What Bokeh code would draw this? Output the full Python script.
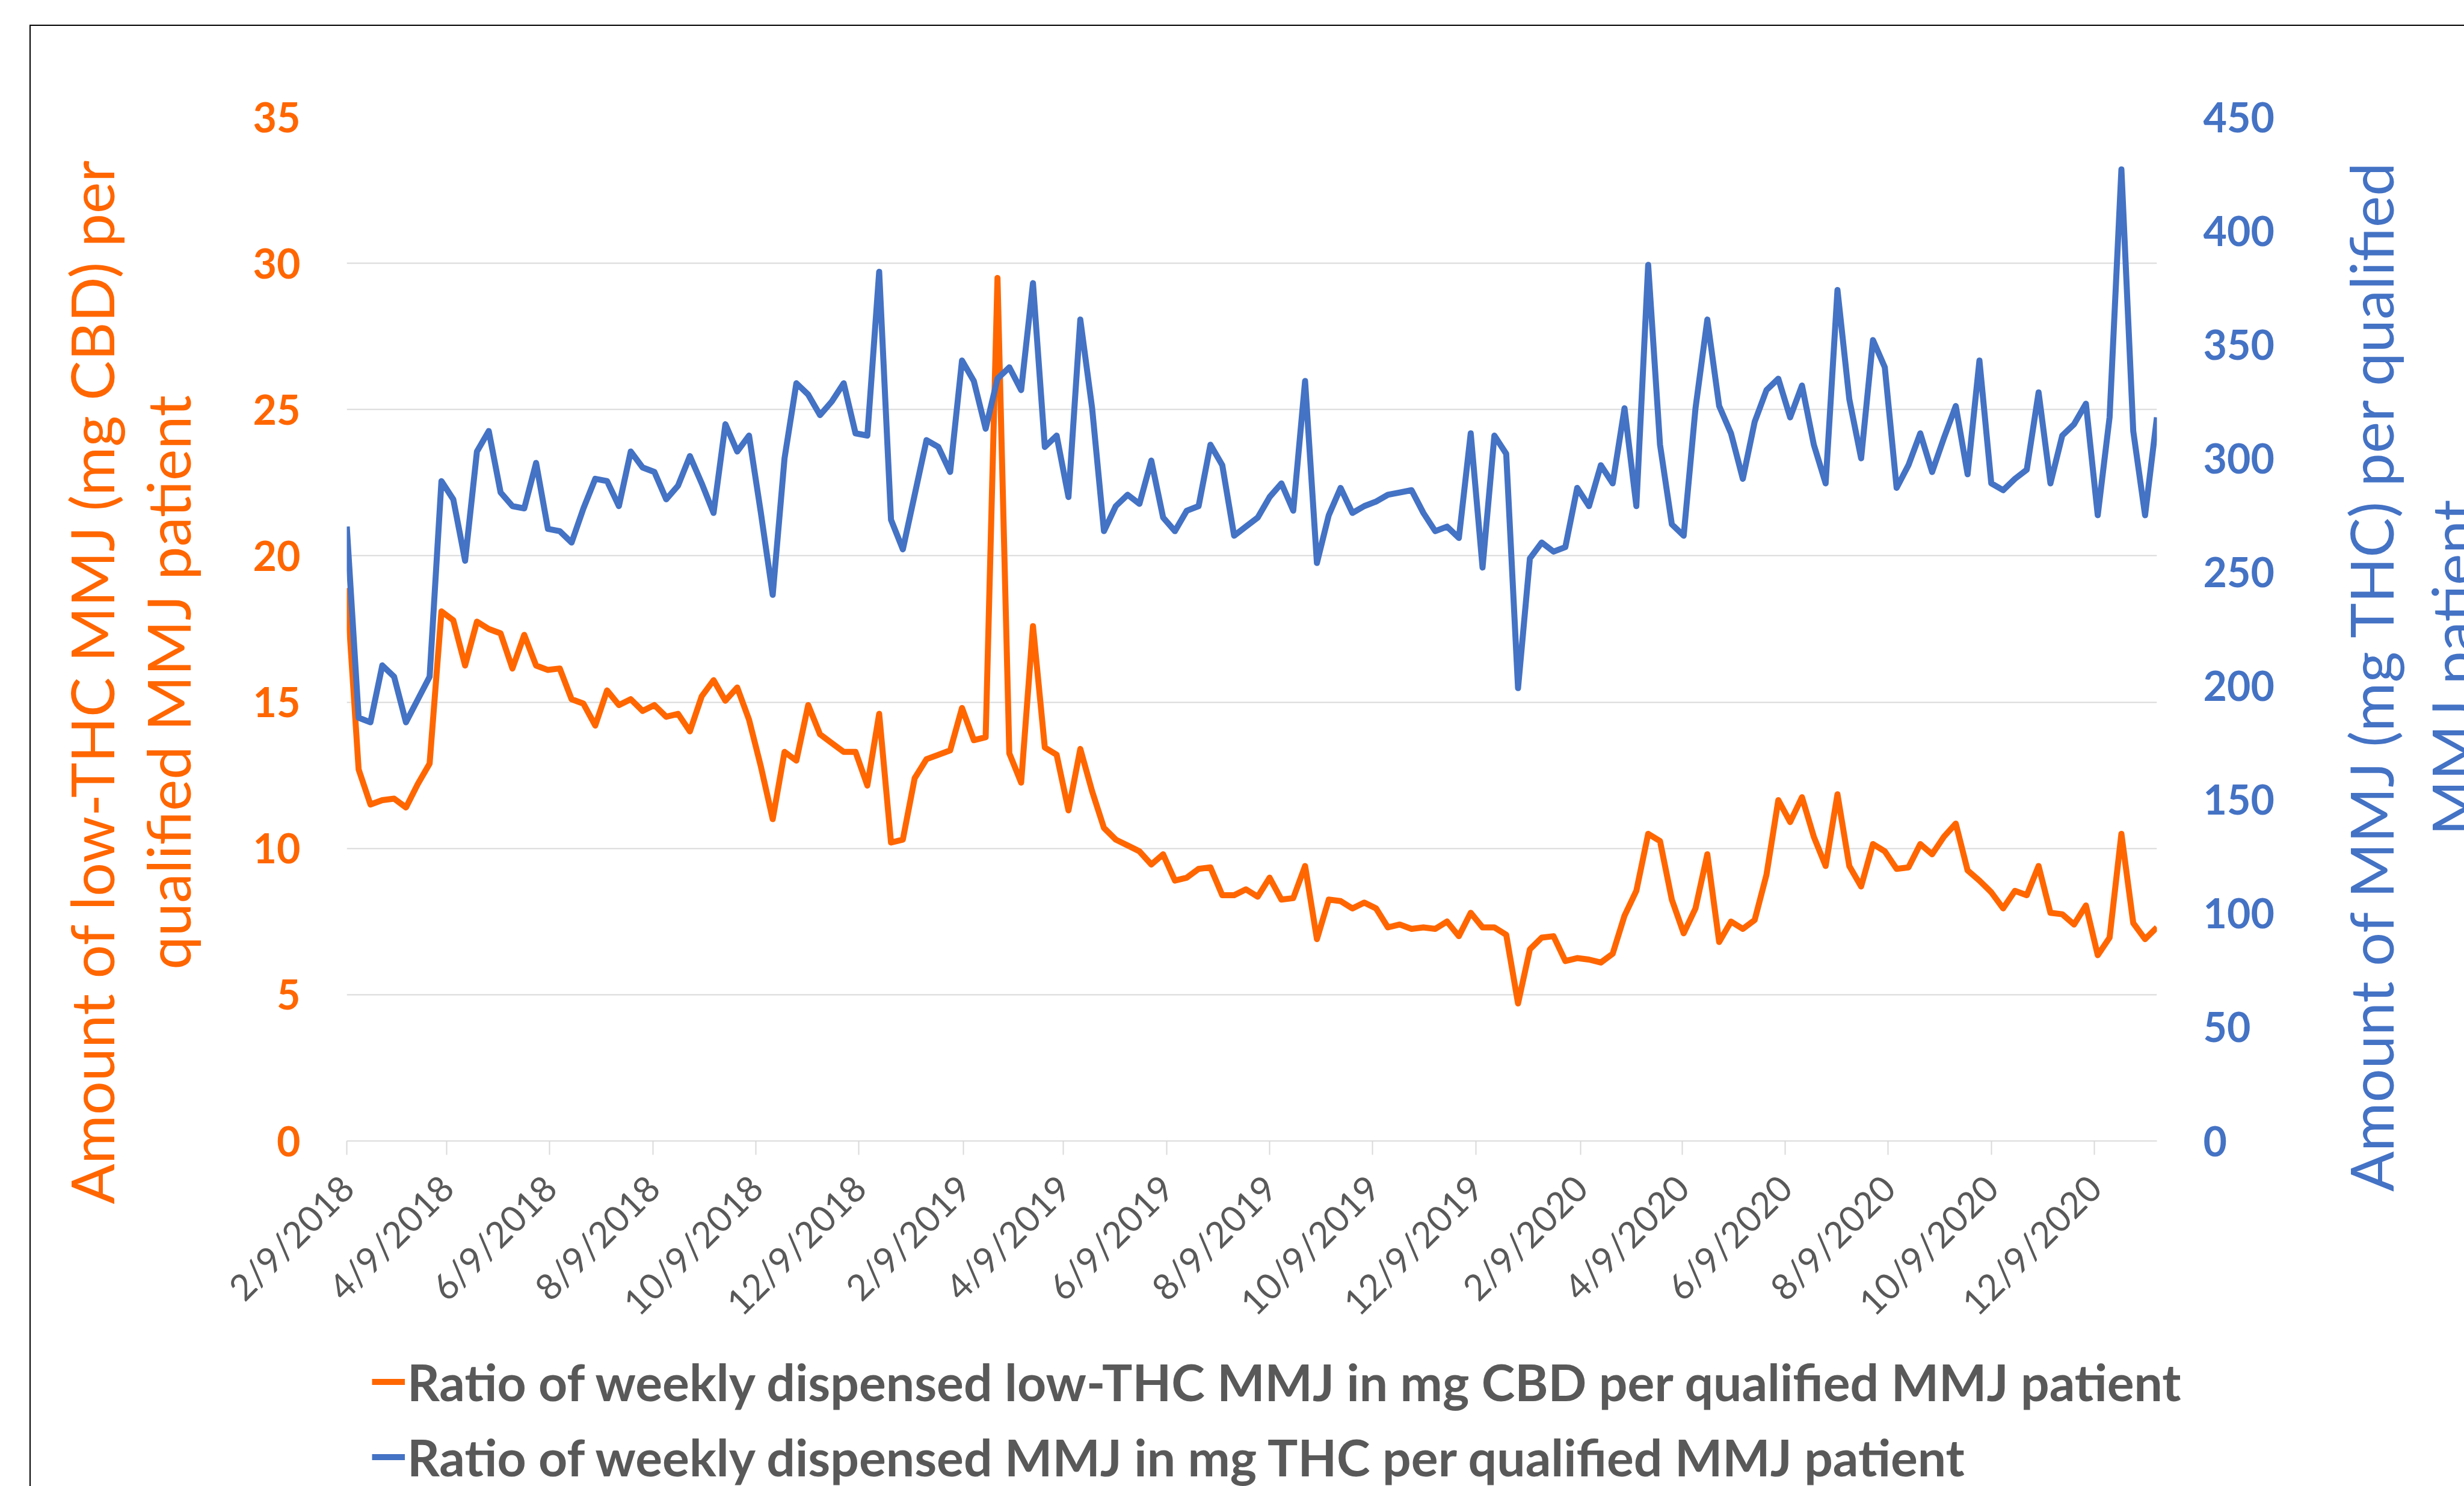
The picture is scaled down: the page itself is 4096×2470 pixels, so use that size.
import math
import pandas as pd
from bokeh.plotting import figure
from bokeh.layouts import column, row
from bokeh.models import (Range1d, LinearAxis, FixedTicker, Legend, LegendItem, Label,
                          CustomJSTickFormatter, ColumnDataSource)
from bokeh.embed import file_html
from bokeh.resources import INLINE

# ---------------- data ----------------
first_week = "2018-02-09"

cbd_mg_per_patient = [
    18.9, 12.7, 11.5, 11.65, 11.7, 11.4, 12.2, 12.9, 18.1, 17.8,
    16.25, 17.75, 17.5, 17.35, 16.15, 17.3, 16.25, 16.1, 16.15, 15.1,
    14.95, 14.2, 15.4, 14.9, 15.1, 14.7, 14.9, 14.5, 14.6, 14.0,
    15.2, 15.75, 15.05, 15.5, 14.4, 12.8, 11.0, 13.3, 13.0, 14.9,
    13.9, 13.6, 13.3, 13.3, 12.15, 14.6, 10.2, 10.3, 12.4, 13.05,
    13.2, 13.35, 14.8, 13.7, 13.8, 29.5, 13.25, 12.25, 17.6, 13.45,
    13.2, 11.3, 13.4, 11.95, 10.7, 10.3, 10.1, 9.9, 9.45, 9.8,
    8.9, 9.0, 9.3, 9.35, 8.4, 8.4, 8.6, 8.35, 9.0, 8.25,
    8.3, 9.4, 6.9, 8.25, 8.2, 7.95, 8.15, 7.95, 7.3, 7.4,
    7.25, 7.3, 7.25, 7.5, 7.0, 7.8, 7.3, 7.3, 7.05, 4.7,
    6.55, 6.95, 7.0, 6.15, 6.25, 6.2, 6.1, 6.4, 7.7, 8.55,
    10.5, 10.25, 8.25, 7.1, 7.95, 9.8, 6.8, 7.5, 7.25, 7.55,
    9.1, 11.65, 10.9, 11.75, 10.4, 9.4, 11.85, 9.4, 8.7, 10.15,
    9.9, 9.3, 9.35, 10.15, 9.8, 10.4, 10.85, 9.25, 8.9, 8.5,
    7.95, 8.55, 8.4, 9.4, 7.8, 7.75, 7.4, 8.05, 6.35, 6.95,
    10.5, 7.45, 6.9, 7.3,
]

thc_mg_per_patient = [
    270, 186, 184, 209, 204, 184, 194, 204, 290, 282,
    255, 303, 312, 285, 279, 278, 298, 269, 268, 263,
    278, 291, 290, 279, 303, 296, 294, 282, 288, 301,
    289, 276, 315, 303, 310, 276, 240, 300, 333, 328,
    319, 325, 333, 311, 310, 382, 273, 260, 284, 308,
    305, 294, 343, 334, 313, 335, 340, 330, 377, 305,
    310, 283, 361, 322, 268, 279, 284, 280, 299, 274,
    268, 277, 279, 306, 297, 266, 270, 274, 283, 289,
    277, 334, 254, 275, 287, 276, 279, 281, 284, 285,
    286, 276, 268, 270, 265, 311, 252, 310, 302, 199,
    256, 263, 259, 261, 287, 279, 297, 289, 322, 279,
    385, 306, 271, 266, 322, 361, 323, 311, 291, 316,
    330, 335, 318, 332, 306, 289, 374, 326, 300, 352,
    340, 287, 297, 311, 294, 309, 323, 293, 343, 289,
    286, 291, 295, 329, 289, 310, 315, 324, 275, 318,
    427, 312, 275, 318,
]

x_tick_dates = [
    "2018-02-09", "2018-04-09", "2018-06-09", "2018-08-09", "2018-10-09", "2018-12-09",
    "2019-02-09", "2019-04-09", "2019-06-09", "2019-08-09", "2019-10-09", "2019-12-09",
    "2020-02-09", "2020-04-09", "2020-06-09", "2020-08-09", "2020-10-09", "2020-12-09",
]
left_ticks = [0, 5, 10, 15, 20, 25, 30, 35]
right_ticks = [0, 50, 100, 150, 200, 250, 300, 350, 400, 450]

legend_cbd = "Ratio of weekly dispensed low-THC MMJ in mg CBD per qualified MMJ patient"
legend_thc = "Ratio of weekly dispensed MMJ in mg THC per qualified MMJ patient"
left_title = ["Amount of low-THC MMJ (mg CBD) per", "qualified MMJ patient"]
right_title = ["Amount of MMJ  (mg THC) per qualified", "MMJ patient"]

# ---------------- styling / geometry ----------------
ORANGE = "#FF6600"
BLUE = "#4472C4"
GRAY = "#595959"
GRID = "#D9D9D9"
FONT = "Lato"
LW = 10
TITLE_SIZE = "99px"
PAD = "\u00a0" * 7   # shifts the centred left title slightly downwards

W, H = 4096, 2470            # whole picture
WM, HM = 3868, 2238          # main chart (frame + axes)
BL, BR, BT = 576, 283, 194
BB = HM - 1896

dates = pd.date_range(first_week, periods=len(cbd_mg_per_patient), freq="7D")
src = ColumnDataSource(dict(date=dates, cbd=cbd_mg_per_patient, thc=thc_mg_per_patient))

def bare(fig):
    fig.outline_line_color = None
    fig.background_fill_alpha = 0
    fig.border_fill_alpha = 0
    fig.xgrid.visible = False
    fig.ygrid.visible = False

# ---------------- main chart ----------------
p = figure(width=WM, height=HM, x_axis_type="datetime", output_backend="svg",
           toolbar_location=None,
           x_range=Range1d(dates[0], dates[-1]),
           y_range=Range1d(0, 35))
p.extra_y_ranges = {"thc": Range1d(0, 450)}
p.min_border_left = BL
p.min_border_right = BR
p.min_border_top = BT
p.min_border_bottom = BB
p.outline_line_color = None
p.background_fill_color = "white"
p.border_fill_alpha = 0

p.xgrid.visible = False
p.ygrid.ticker = FixedTicker(ticks=left_ticks)
p.ygrid.grid_line_color = GRID
p.ygrid.grid_line_width = 2

xt = [pd.Timestamp(d).value / 1e6 for d in x_tick_dates]
xa = p.xaxis[0]
xa.ticker = FixedTicker(ticks=xt, minor_ticks=[])
xa.formatter = CustomJSTickFormatter(code="""
const d = new Date(tick);
return (d.getUTCMonth()+1) + '/' + d.getUTCDate() + '/' + d.getUTCFullYear();
""")
xa.major_label_orientation = math.pi / 4
xa.major_label_text_font = FONT
xa.major_label_text_font_size = "60px"
xa.major_label_text_color = GRAY
xa.axis_line_color = GRID
xa.axis_line_width = 2
xa.major_tick_line_color = GRID
xa.major_tick_line_width = 2
xa.major_tick_out = 23
xa.major_tick_in = 0
xa.minor_tick_line_color = None
xa.major_label_standoff = 44

def style_y(ax, color):
    ax.axis_line_color = None
    ax.major_tick_line_color = None
    ax.minor_tick_line_color = None
    ax.major_tick_out = 0
    ax.major_tick_in = 0
    ax.major_label_standoff = 77
    ax.major_label_text_font = FONT
    ax.major_label_text_font_style = "bold"
    ax.major_label_text_font_size = "68px"
    ax.major_label_text_color = color

ya = p.yaxis[0]
ya.ticker = FixedTicker(ticks=left_ticks, minor_ticks=[])
style_y(ya, ORANGE)
ya.axis_label = "\n".join(t + PAD for t in left_title)
ya.axis_label_text_font = FONT
ya.axis_label_text_font_style = "normal"
ya.axis_label_text_font_size = TITLE_SIZE
ya.axis_label_text_color = ORANGE
ya.axis_label_text_line_height = 1.06
ya.axis_label_standoff = 80

ra = LinearAxis(y_range_name="thc", ticker=FixedTicker(ticks=right_ticks, minor_ticks=[]))
style_y(ra, BLUE)
p.add_layout(ra, "right")

r_cbd = p.line(x="date", y="cbd", source=src, line_color=ORANGE, line_width=LW, line_join="round")
r_thc = p.line(x="date", y="thc", source=src, y_range_name="thc", line_color=BLUE,
               line_width=LW, line_join="round")

# ---------------- right-hand axis title (partly beyond the picture edge) ----------------
rt = figure(width=W - WM, height=HM, output_backend="svg", toolbar_location=None,
            x_axis_location=None, y_axis_location=None,
            x_range=Range1d(0, 1), y_range=Range1d(0, 1), min_border=0)
bare(rt)
for txt, xpage in zip(right_title, [3940, 4076]):
    rt.add_layout(Label(x=xpage - WM, y=HM - 1109, x_units="screen", y_units="screen", text=txt,
                        angle=math.pi / 2, text_align="center", text_baseline="middle",
                        text_font=FONT, text_font_size=TITLE_SIZE, text_color=BLUE))

# ---------------- legend strip ----------------
lg = figure(width=W, height=H - HM, output_backend="svg", toolbar_location=None,
            x_axis_location=None, y_axis_location=None,
            x_range=Range1d(0, 1), y_range=Range1d(0, 1), min_border=0)
bare(lg)
# same series, outside this strip's ranges: only their legend samples show
k_cbd = lg.line(x="date", y="cbd", source=src, line_color=ORANGE, line_width=LW)
k_thc = lg.line(x="date", y="thc", source=src, line_color=BLUE, line_width=LW)
legend = Legend(items=[LegendItem(label=legend_cbd, renderers=[k_cbd]),
                       LegendItem(label=legend_thc, renderers=[k_thc])],
                location=(618, -2), orientation="vertical", padding=0, margin=0,
                spacing=24, glyph_width=55, glyph_height=101, label_height=101,
                label_standoff=4, label_text_font=FONT, label_text_font_style="bold",
                label_text_font_size="84px", label_text_color=GRAY,
                border_line_color=None, background_fill_alpha=0)
lg.add_layout(legend)

layout = column(row(p, column(rt)), lg)
# chart-area border: only its left and top edges fall inside the picture
layout.styles = {
    "background-color": "white",
    "background-image": "linear-gradient(#000,#000), linear-gradient(#000,#000)",
    "background-size": "2.4px 100%, 100% 2.4px",
    "background-position": "49px 41px, 49px 41px",
    "background-repeat": "no-repeat",
}

open("out.html", "w").write(file_html(layout, INLINE))
